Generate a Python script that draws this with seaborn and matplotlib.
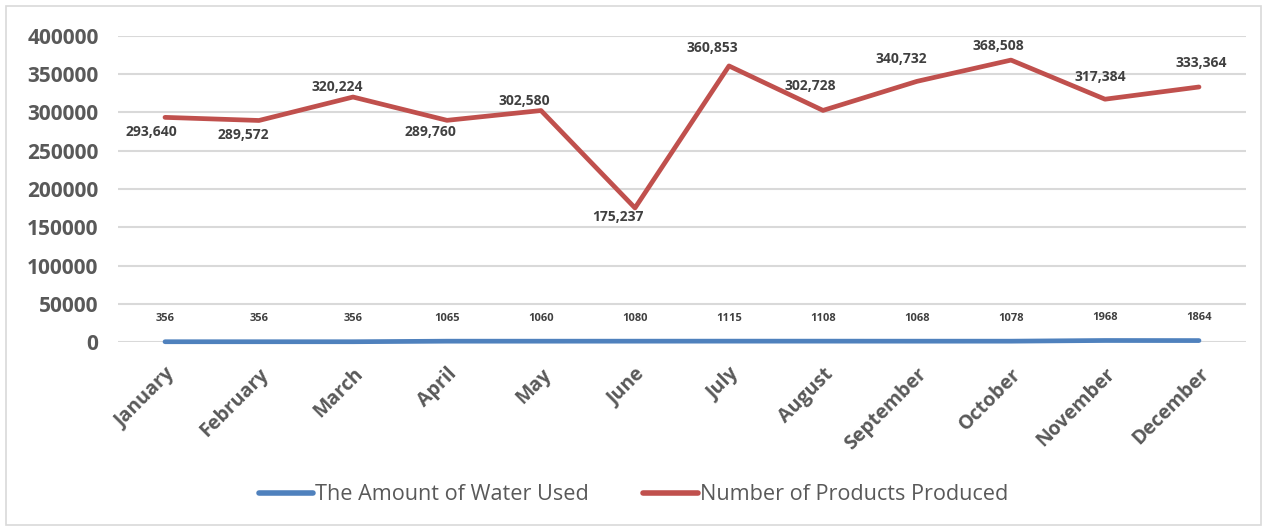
import matplotlib
matplotlib.use("Agg")
import matplotlib.pyplot as plt
from matplotlib.patches import Rectangle
from matplotlib.lines import Line2D
import seaborn as sns
import pandas as pd

months = ["January", "February", "March", "April", "May", "June",
          "July", "August", "September", "October", "November", "December"]
water_used = [356, 356, 356, 1065, 1060, 1080, 1115, 1108, 1068, 1078, 1968, 1864]
products = [293640, 289572, 320224, 289760, 302580, 175237,
            360853, 302728, 340732, 368508, 317384, 333364]
series_names = ["The Amount of Water Used", "Number of Products Produced"]
y_ticks = [0, 50000, 100000, 150000, 200000, 250000, 300000, 350000, 400000]

# label placement for the production series (pixel offsets from each point)
product_label_offsets = [(-14, 15), (-16, 15), (-16, -10), (-17, 12), (-17, -10), (-17, 9),
                         (-17, -18), (-13, -24), (-16, -22), (-13, -14), (-5, -22), (2, -24)]

BLUE = "#4F81BD"
RED = "#C0504D"
TEXT = "#595959"
LABEL = "#404040"
GRID = "#D9D9D9"
FONT = ["Open Sans", "DejaVu Sans"]
PX = 72 / 100  # points per pixel at 100 dpi

sns.set_theme(style="white")
plt.rcParams["font.family"] = FONT

df = pd.concat([
    pd.DataFrame({"month": months, "value": water_used, "series": series_names[0]}),
    pd.DataFrame({"month": months, "value": products, "series": series_names[1]}),
])
df["pos"] = df["month"].map({m: i for i, m in enumerate(months)})

fig = plt.figure(figsize=(12.67, 5.30), dpi=100)
ax = fig.add_axes([118 / 1267, (530 - 342) / 530, (1246 - 118) / 1267, (342 - 36) / 530])

sns.lineplot(data=df, x="pos", y="value", hue="series",
             palette={series_names[0]: BLUE, series_names[1]: RED},
             linewidth=3.4, ax=ax, legend=False, sort=False,
             solid_capstyle="round", clip_on=False, zorder=3)

ax.set_xlim(-0.5, len(months) - 0.5)
ax.set_ylim(0, 400000)
ax.set_yticks(y_ticks)
ax.set_yticklabels([str(v) for v in y_ticks], fontsize=15, fontweight="bold", color=TEXT)
ax.set_xticks(range(len(months)))
ax.set_xticklabels(months, rotation=45, ha="right", va="top", rotation_mode="anchor",
                   fontsize=14, fontweight="bold", color=TEXT)
ax.tick_params(axis="both", length=0)
ax.tick_params(axis="y", pad=14)
ax.tick_params(axis="x", pad=16)
ax.set_xlabel("")
ax.set_ylabel("")
ax.grid(axis="y", color=GRID, linewidth=1.5)
ax.set_axisbelow(True)
for s in ax.spines.values():
    s.set_visible(False)

# value labels for the water series, centred above the line
for i, v in enumerate(water_used):
    ax.annotate(str(v), (i, v), xytext=(0, 23 * PX), textcoords="offset points",
                ha="center", va="center", fontsize=8, fontweight="bold", color=LABEL)

# value labels for production
for i, v in enumerate(products):
    dx, dy = product_label_offsets[i]
    ax.annotate(f"{v:,}", (i, v), xytext=(dx * PX, -dy * PX), textcoords="offset points",
                ha="center", va="center", fontsize=10, fontweight="bold", color=LABEL)

handles = [Line2D([], [], color=BLUE, linewidth=4, solid_capstyle="round"),
           Line2D([], [], color=RED, linewidth=4, solid_capstyle="round")]
fig.legend(handles, series_names, loc="center", bbox_to_anchor=(0.5, (530 - 495) / 530),
           ncol=2, frameon=False, handlelength=2.5, handletextpad=0.1, columnspacing=2.5,
           prop={"size": 15.6, "family": FONT}, labelcolor=TEXT)

fig.patches.append(Rectangle((6 / 1267, 5 / 530), 1255 / 1267, 519 / 530,
                             transform=fig.transFigure, fill=False,
                             edgecolor=GRID, linewidth=1.2))

fig.savefig("out.png", dpi=100, facecolor="white")
